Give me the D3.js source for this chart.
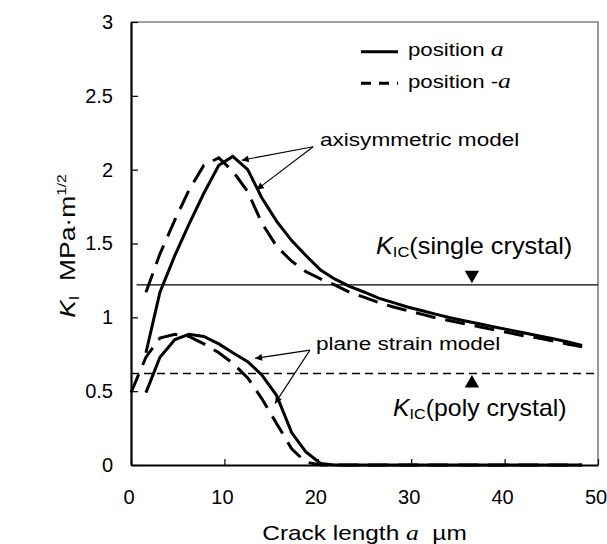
<!DOCTYPE html>
<html>
<head>
<meta charset="utf-8">
<script src="https://cdn.jsdelivr.net/npm/d3@7"></script>
<style>
  body { margin: 0; background: #fff; }
  text { font-family: "Liberation Sans", Arial, sans-serif; fill: #000; }
</style>
</head>
<body>
<svg id="chart" width="607" height="544"></svg>
<script>
// Axis ticks
const xTicks = [0, 10, 20, 30, 40, 50];
const yTicks = [0, 0.5, 1, 1.5, 2, 2.5, 3];
const yTickLabels = ["0", "0.5", "1", "1.5", "2", "2.5", "3"];

// Axisymmetric model, stress intensity K_I (MPa·m^1/2) vs crack length (µm)
const axiPosAX = [1.6, 3.1, 4.7, 6.2, 7.8, 9.4, 10.9, 12.5, 14.0, 15.6, 17.2, 18.7, 20.3, 21.8, 23.4, 25.0, 26.5, 28.1, 29.6, 31.2, 32.7, 34.3, 35.8, 37.4, 38.9, 40.5, 42.0, 43.6, 45.2, 46.7, 48.3];
const axiPosAY = [0.76, 1.17, 1.42, 1.63, 1.84, 2.03, 2.09, 2.00, 1.81, 1.65, 1.52, 1.42, 1.32, 1.26, 1.21, 1.17, 1.13, 1.10, 1.07, 1.045, 1.02, 0.995, 0.975, 0.955, 0.935, 0.915, 0.895, 0.875, 0.855, 0.835, 0.81];
const axiNegAX = [1.6, 3.1, 4.7, 6.2, 7.8, 9.4, 10.9, 12.5, 14.0, 15.6, 17.2, 18.7, 20.3, 21.8, 23.4, 25.0, 26.5, 28.1, 29.6, 31.2, 32.7, 34.3, 35.8, 37.4, 38.9, 40.5, 42.0, 43.6, 45.2, 46.7, 48.3];
const axiNegAY = [1.17, 1.43, 1.66, 1.86, 2.03, 2.08, 1.99, 1.85, 1.64, 1.48, 1.38, 1.31, 1.26, 1.22, 1.17, 1.135, 1.10, 1.07, 1.045, 1.02, 0.995, 0.975, 0.955, 0.935, 0.915, 0.895, 0.875, 0.86, 0.84, 0.82, 0.80];

// Plane strain model
const planePosAX = [1.6, 3.1, 4.7, 6.2, 7.8, 9.4, 10.9, 12.5, 14.0, 15.6, 17.2, 18.7, 20.3, 21.8, 23.4, 26.5, 29.6, 32.7, 35.8, 38.9, 42.0, 45.2, 48.3];
const planePosAY = [0.49, 0.73, 0.85, 0.885, 0.87, 0.82, 0.76, 0.70, 0.61, 0.47, 0.22, 0.09, 0.01, 0, 0, 0, 0, 0, 0, 0, 0, 0, 0];
const planeNegAX = [0, 1.6, 3.1, 4.7, 6.2, 7.8, 9.4, 10.9, 12.5, 14.0, 15.6, 17.2, 18.7, 20.3, 21.8, 23.4, 26.5, 29.6, 32.7, 35.8, 38.9, 42.0, 45.2, 48.3];
const planeNegAY = [0.49, 0.73, 0.86, 0.885, 0.87, 0.82, 0.76, 0.69, 0.59, 0.45, 0.28, 0.11, 0.02, 0, 0, 0, 0, 0, 0, 0, 0, 0, 0, 0];

// Fracture toughness levels
const kicSingle = 1.22;
const kicPoly = 0.62;
const kicSingleSpan = [0.6, 50];
const kicPolySpan = [0, 50];
const kicMarkerX = 36.5;

// Annotation arrows (data units): [fromX, fromY, toX, toY]
const axiArrows = [[19.5, 2.155, 11.85, 2.064], [19.5, 2.155, 13.46, 1.865]];
const planeArrows = [[19.16, 0.778, 13.28, 0.722], [19.16, 0.778, 15.42, 0.417]];

const svg = d3.select("#chart");
const margin = { left: 131, right: 9, top: 22, bottom: 79 };
const W = 607, H = 544;
const x = d3.scaleLinear().domain([0, 50]).range([margin.left, W - margin.right]);
const y = d3.scaleLinear().domain([0, 3]).range([H - margin.bottom, margin.top]);

// frame: grey top/right edges
svg.append("path")
  .attr("d", `M${x(0)},${y(3)}H${x(50)}V${y(0)}`)
  .attr("fill", "none").attr("stroke", "#808080").attr("stroke-width", 1.6);

const line = d3.line().x(d => x(d[0])).y(d => y(d[1]));
const zip = (xs, ys) => xs.map((v, i) => [v, ys[i]]);

// K_IC reference lines
svg.append("line")
  .attr("x1", x(kicSingleSpan[0])).attr("x2", x(kicSingleSpan[1]))
  .attr("y1", y(kicSingle)).attr("y2", y(kicSingle))
  .attr("stroke", "#000").attr("stroke-width", 1.2);
svg.append("line")
  .attr("x1", x(kicPolySpan[0])).attr("x2", x(kicPolySpan[1]))
  .attr("y1", y(kicPoly)).attr("y2", y(kicPoly))
  .attr("stroke", "#000").attr("stroke-width", 1.6).attr("stroke-dasharray", "8,5");

// curves
const curves = [
  { pts: zip(axiPosAX, axiPosAY), dash: null },
  { pts: zip(axiNegAX, axiNegAY), dash: "20,10" },
  { pts: zip(planePosAX, planePosAY), dash: null },
  { pts: zip(planeNegAX, planeNegAY), dash: "20,10" }
];
svg.append("g").selectAll("path").data(curves).join("path")
  .attr("d", d => line(d.pts))
  .attr("fill", "none").attr("stroke", "#000").attr("stroke-width", 3)
  .attr("stroke-linejoin", "miter")
  .attr("stroke-dasharray", d => d.dash);

// axes
const xAxis = d3.axisBottom(x).tickValues(xTicks).tickSizeInner(-6).tickSizeOuter(0).tickPadding(25);
const gx = svg.append("g").attr("transform", `translate(0,${y(0)})`).call(xAxis);
gx.select(".domain").attr("stroke", "#000").attr("stroke-width", 2.2);
gx.selectAll(".tick line").attr("stroke", "#000").attr("stroke-width", 1.2);
gx.selectAll(".tick text").attr("font-size", 20).attr("font-family", "Liberation Sans, Arial, sans-serif").attr("dx", -2.5);

const yAxis = d3.axisLeft(y).tickValues(yTicks).tickFormat((d, i) => yTickLabels[i])
  .tickSizeInner(-7).tickSizeOuter(0).tickPadding(18);
const gy = svg.append("g").attr("transform", `translate(${x(0)},0)`).call(yAxis);
gy.select(".domain").attr("stroke", "#000").attr("stroke-width", 2.2);
gy.selectAll(".tick line").attr("stroke", "#000").attr("stroke-width", 1.2);
gy.selectAll(".tick text").attr("font-size", 20).attr("font-family", "Liberation Sans, Arial, sans-serif");

// rich text helper: parts = [{text, size, italic, family, dy}]
function richText(px, py, parts, opts = {}) {
  const t = svg.append("text")
    .attr("transform", `translate(${px},${py}) rotate(${opts.rotate || 0}) scale(${opts.sx || 1},1)`)
    .attr("text-anchor", opts.anchor || "start")
    .attr("font-size", opts.size || 20);
  parts.forEach(p => {
    const s = t.append("tspan").text(p.text);
    if (p.size) s.attr("font-size", p.size);
    if (p.italic) s.attr("font-style", "italic");
    if (p.family) s.attr("font-family", p.family);
    if (p.dy) s.attr("dy", p.dy);
  });
  return t;
}

const serif = "Liberation Serif, Times New Roman, serif";

// axis titles
richText((x(0) + x(50)) / 2 + 0, 540, [
  { text: "Crack length " },
  { text: "a", italic: true, family: serif, size: 21 },
  { text: "\u00a0\u00a0\u00b5m" }
], { anchor: "middle", sx: 1.22, size: 20 });

richText(75, 246, [
  { text: "K", italic: true, size: 22 },
  { text: "I", size: 14, dy: 4 },
  { text: "\u00a0\u00a0MPa\u00b7m", size: 22, dy: -4 },
  { text: "1/2", size: 13, dy: -9 }
], { anchor: "middle", rotate: -90, sx: 1.2 });

// legend
const legendRows = [
  { label: "position ", sym: "a", dash: null, yMid: 51.7, base: 56 },
  { label: "position -", sym: "a", dash: "10,8", yMid: 83.3, base: 87.5 }
];
legendRows.forEach(r => {
  svg.append("line").attr("x1", 361).attr("x2", 398).attr("y1", r.yMid).attr("y2", r.yMid)
    .attr("stroke", "#000").attr("stroke-width", 3).attr("stroke-dasharray", r.dash);
  richText(408, r.base, [
    { text: r.label },
    { text: r.sym, italic: true, family: serif, size: 22 }
  ], { sx: 1.17, size: 19 });
});

// annotations
svg.append("defs").append("marker")
  .attr("id", "arrow").attr("viewBox", "0 0 10 10").attr("refX", 10).attr("refY", 5)
  .attr("markerWidth", 10).attr("markerHeight", 7).attr("markerUnits", "userSpaceOnUse")
  .attr("orient", "auto")
  .append("path").attr("d", "M0,0L10,5L0,10Z").attr("fill", "#000");

[...axiArrows, ...planeArrows].forEach(a => {
  svg.append("line")
    .attr("x1", x(a[0])).attr("y1", y(a[1])).attr("x2", x(a[2])).attr("y2", y(a[3]))
    .attr("stroke", "#000").attr("stroke-width", 1.1).attr("marker-end", "url(#arrow)");
});

richText(320, 146, [{ text: "axisymmetric model" }], { sx: 1.22, size: 18.5 });
richText(316, 350, [{ text: "plane strain model" }], { sx: 1.22, size: 18.5 });

// K_IC labels with triangle markers
richText(376, 254, [
  { text: "K", italic: true, size: 23 },
  { text: "IC", size: 15, dy: 3 },
  { text: "(single crystal)", size: 23, dy: -3 }
], { sx: 1.1 });
richText(393, 416, [
  { text: "K", italic: true, size: 23 },
  { text: "IC", size: 15, dy: 3 },
  { text: "(poly crystal)", size: 23, dy: -3 }
], { sx: 1.08 });

const tri = d3.symbol().type(d3.symbolTriangle).size(90);
svg.append("path").attr("d", tri())
  .attr("transform", `translate(${x(kicMarkerX)},${y(kicSingle) - 10}) rotate(180)`).attr("fill", "#000");
svg.append("path").attr("d", tri())
  .attr("transform", `translate(${x(kicMarkerX)},${y(kicPoly) + 10})`).attr("fill", "#000");
</script>
</body>
</html>
